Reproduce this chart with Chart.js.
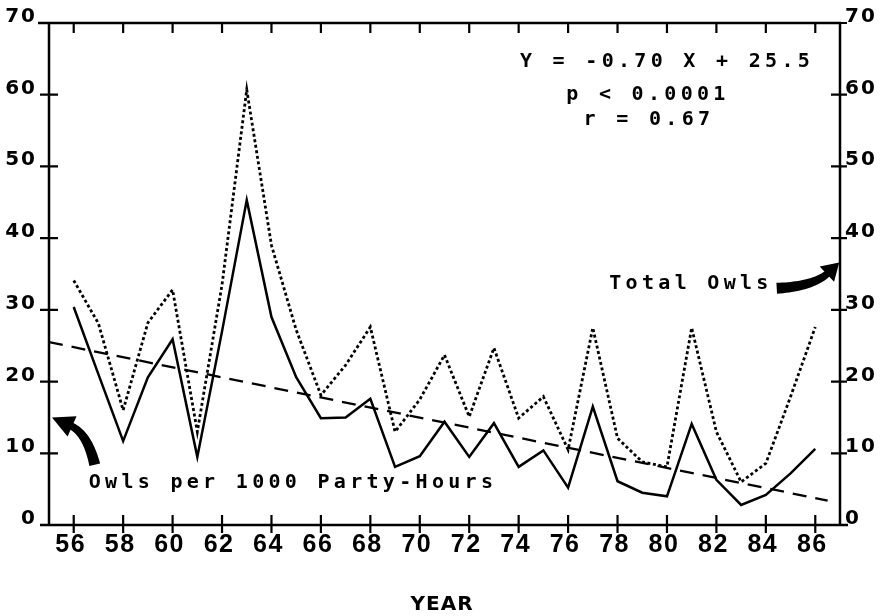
<!DOCTYPE html>
<html>
<head>
<meta charset="utf-8">
<script src="https://cdn.jsdelivr.net/npm/chart.js@4"></script>
<style>
  html, body { margin: 0; padding: 0; background: #fff; }
  #wrap { width: 882px; height: 616px; }
</style>
</head>
<body>
<div id="wrap"><canvas id="c" width="882" height="616"></canvas></div>
<script>
const years = [56,57,58,59,60,61,62,63,64,65,66,67,68,69,70,71,72,73,74,75,76,77,78,79,80,81,82,83,84,85,86];
const owlsPer1000 = [30.4,21.0,11.7,20.6,25.9,9.5,27.0,45.3,29.0,20.6,14.9,15.0,17.6,8.1,9.6,14.4,9.5,14.2,8.1,10.4,5.2,16.5,6.1,4.5,4.0,14.1,6.3,2.8,4.2,7.2,10.6];
const totalOwls = [34.1,28.1,16.0,28.2,32.8,13.0,33.5,60.7,39.0,27.2,18.1,22.3,27.6,13.0,17.5,23.7,15.1,24.7,14.9,17.9,10.5,27.5,12.1,8.8,8.1,27.5,13.0,6.0,8.6,17.9,27.6];
const trendYears = [55, 86.5];
const trendValues = [25.5, 3.4];
const xTickLabels = [56,58,60,62,64,66,68,70,72,74,76,78,80,82,84,86];
const yTickLabels = [0,10,20,30,40,50,60,70];
const statsLines = ["Y = -0.70 X + 25.5", "p < 0.0001", "r = 0.67"];

const toPts = (xs, ys) => xs.map((x, i) => ({x: x, y: ys[i]}));

const decor = {
  id: 'decor',
  afterDraw(chart) {
    const ctx = chart.ctx;
    const xs = chart.scales.x, ys = chart.scales.y;
    const ca = chart.chartArea;
    const L = ca.left, R = ca.right, T = ca.top, B = ca.bottom;
    const X = v => xs.getPixelForValue(v), Y = v => ys.getPixelForValue(v);
    ctx.save();
    ctx.strokeStyle = '#000';
    ctx.fillStyle = '#000';
    ctx.lineCap = 'butt';
    // frame
    ctx.lineWidth = 2.5;
    ctx.beginPath();
    ctx.moveTo(L, T - 1); ctx.lineTo(L, B + 1);
    ctx.moveTo(R, T - 1); ctx.lineTo(R, B + 1);
    ctx.moveTo(L - 11, T); ctx.lineTo(R + 1, T);
    ctx.moveTo(L - 9, B); ctx.lineTo(R + 8, B);
    ctx.stroke();
    // y ticks
    ctx.lineWidth = 2.2;
    ctx.beginPath();
    yTickLabels.forEach(v => {
      const p = Y(v);
      ctx.moveTo(L - 9, p); ctx.lineTo(L + 9, p);
      ctx.moveTo(R - 9, p); ctx.lineTo(R + 7, p);
    });
    // x ticks
    xTickLabels.forEach(v => {
      const p = X(v);
      ctx.moveTo(p, B - 10); ctx.lineTo(p, B + 8);
      ctx.moveTo(p, T); ctx.lineTo(p, T + 10);
    });
    ctx.stroke();

    // tick labels
    ctx.font = 'bold 20px "DejaVu Sans"';
    ctx.letterSpacing = '2px';
    ctx.textBaseline = 'alphabetic';
    yTickLabels.forEach(v => {
      const p = Y(v) - 1;
      ctx.textAlign = 'right';
      ctx.fillText(String(v), L - 12, p);
      ctx.textAlign = 'left';
      ctx.fillText(String(v), R + 5, p);
    });
    ctx.font = 'bold 25px "Liberation Sans"';
    ctx.letterSpacing = '1.5px';
    ctx.textAlign = 'center';
    xTickLabels.forEach(v => {
      ctx.fillText(String(v), X(v) - 3, B + 27);
    });

    // axis title
    ctx.font = 'bold 20px "DejaVu Sans"';
    ctx.letterSpacing = '1px';
    ctx.textBaseline = 'middle';
    ctx.fillText('YEAR', X(70.9), Y(-11.1));

    // annotations (monospace, wide)
    ctx.font = 'bold 20px "DejaVu Sans Mono"';
    ctx.letterSpacing = '4.3px';
    ctx.textAlign = 'center';
    const statPos = [[79.92, 64.6], [79.15, 60.0], [79.19, 56.5]];
    statsLines.forEach((s, i) => {
      ctx.fillText(s, X(statPos[i][0]) + 2, Y(statPos[i][1]));
    });
    ctx.fillText('Total Owls', X(80.89) + 2, Y(33.7));
    ctx.fillText('Owls per 1000 Party-Hours', X(64.79) + 2, Y(5.86));

    // tapered curved arrows
    function arrow(tail, ctrl, tip, w0, w1, hl, hw) {
      const t = [X(tail[0]), Y(tail[1])];
      const c = [X(ctrl[0]), Y(ctrl[1])];
      const p = [X(tip[0]), Y(tip[1])];
      let dx = p[0] - c[0], dy = p[1] - c[1];
      const d = Math.hypot(dx, dy); dx /= d; dy /= d;
      const b = [p[0] - dx * hl + dx * 2, p[1] - dy * hl + dy * 2];
      const N = 24, left = [], right = [];
      for (let i = 0; i <= N; i++) {
        const s = i / N;
        const x = (1-s)*(1-s)*t[0] + 2*(1-s)*s*c[0] + s*s*b[0];
        const y = (1-s)*(1-s)*t[1] + 2*(1-s)*s*c[1] + s*s*b[1];
        let tx = 2*(1-s)*(c[0]-t[0]) + 2*s*(b[0]-c[0]);
        let ty = 2*(1-s)*(c[1]-t[1]) + 2*s*(b[1]-c[1]);
        const tl = Math.hypot(tx, ty); tx /= tl; ty /= tl;
        const w = (w0 + (w1 - w0) * s) / 2;
        left.push([x - ty * w, y + tx * w]);
        right.push([x + ty * w, y - tx * w]);
      }
      ctx.beginPath();
      ctx.moveTo(left[0][0], left[0][1]);
      left.forEach(q => ctx.lineTo(q[0], q[1]));
      for (let i = right.length - 1; i >= 0; i--) ctx.lineTo(right[i][0], right[i][1]);
      ctx.closePath();
      ctx.fill();
      const hb = [p[0] - dx * hl, p[1] - dy * hl];
      ctx.beginPath();
      ctx.moveTo(p[0], p[1]);
      ctx.lineTo(hb[0] - dy * hw / 2, hb[1] + dx * hw / 2);
      ctx.lineTo(hb[0] + dy * hw / 2, hb[1] - dx * hw / 2);
      ctx.closePath();
      ctx.fill();
    }
    // Total Owls arrow -> right axis
    arrow([84.44, 33.0], [85.95, 33.3], [86.97, 36.6], 11, 7, 17, 21);
    // Owls per 1000 arrow -> left axis
    arrow([56.85, 8.4], [56.55, 12.8], [55.12, 15.0], 11, 7, 22, 22);
    ctx.restore();
  }
};

new Chart(document.getElementById('c'), {
  type: 'line',
  data: {
    datasets: [
      { label: 'Owls per 1000 Party-Hours', data: toPts(years, owlsPer1000), borderColor: '#000', borderWidth: 2.5, pointRadius: 0, tension: 0, fill: false },
      { label: 'Total Owls', data: toPts(years, totalOwls), borderColor: '#000', borderWidth: 2.8, borderDash: [3, 2.6], pointRadius: 0, tension: 0, fill: false },
      { label: 'Trend', data: toPts(trendYears, trendValues), borderColor: '#000', borderWidth: 2.3, borderDash: [14, 9], pointRadius: 0, tension: 0, fill: false }
    ]
  },
  options: {
    responsive: false,
    animation: false,
    events: [],
    layout: { padding: { left: 49, right: 42, top: 23, bottom: 91 } },
    plugins: { legend: { display: false }, tooltip: { enabled: false } },
    scales: {
      x: { type: 'linear', min: 55, max: 87, display: false },
      y: { type: 'linear', min: 0, max: 70, display: false }
    }
  },
  plugins: [decor]
});
</script>
</body>
</html>
